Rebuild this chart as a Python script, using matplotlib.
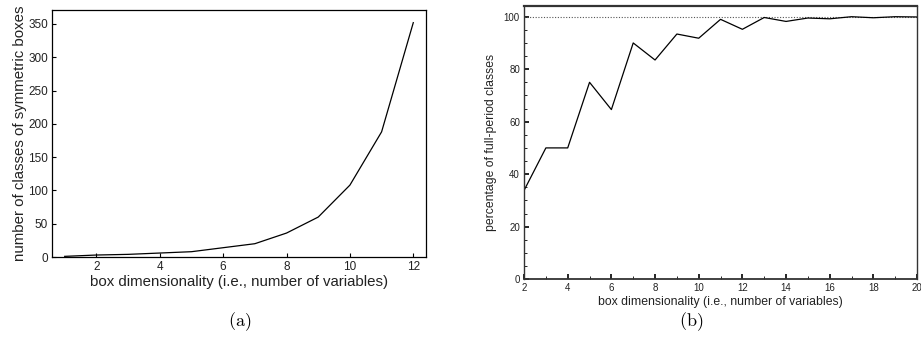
import matplotlib
matplotlib.use('Agg')
from matplotlib import pyplot as plt
from matplotlib.ticker import MultipleLocator

# (a) number of classes of symmetric boxes per dimensionality
dims_a = [1, 2, 3, 4, 5, 6, 7, 8, 9, 10, 11, 12]
classes_a = [1, 3, 4, 6, 8, 14, 20, 36, 60, 108, 188, 352]

# (b) percentage of full-period classes
dims_b = list(range(2, 21))
pct_b = [33.8, 50, 50, 75, 64.6, 90, 83.5, 93.4, 91.8, 99, 95.2, 99.7,
         98.2, 99.5, 99.2, 100, 99.6, 100, 99.9]

plt.rcParams['font.family'] = ['Liberation Sans', 'DejaVu Sans']
plt.rcParams['mathtext.fontset'] = 'cm'
narrow = ['Liberation Sans Narrow', 'Liberation Sans', 'DejaVu Sans']
txt = '#222222'

fig = plt.figure(figsize=(9.21, 3.45), dpi=100)

ax1 = fig.add_axes([0.0565, 0.255, 0.406, 0.716])
ax1.plot(dims_a, classes_a, color='black', linewidth=0.9)
ax1.set_xlim(0.6, 12.4)
ax1.set_ylim(0, 371)
ax1.set_xticks([2, 4, 6, 8, 10, 12])
ax1.set_yticks([0, 50, 100, 150, 200, 250, 300, 350])
ax1.tick_params(direction='in', length=3, labelsize=8.5, pad=3, labelcolor=txt)
ax1.set_xlabel('box dimensionality (i.e., number of variables)', fontsize=10.8,
               labelpad=1, color=txt)
ax1.set_ylabel('number of classes of symmetric boxes', fontsize=10.8,
               labelpad=1, color=txt)
for s in ax1.spines.values():
    s.set_linewidth(0.9)

ax2 = fig.add_axes([0.569, 0.191, 0.4267, 0.791])
ax2.axhline(100, color='#555555', linestyle=(0, (1, 1.5)), linewidth=0.8)
ax2.plot(dims_b, pct_b, color='black', linewidth=0.9)
ax2.set_xlim(2, 20)
ax2.set_ylim(0, 104)
ax2.xaxis.set_major_locator(MultipleLocator(2))
ax2.xaxis.set_minor_locator(MultipleLocator(1))
ax2.yaxis.set_major_locator(MultipleLocator(20))
ax2.yaxis.set_minor_locator(MultipleLocator(5))
ax2.tick_params(which='both', direction='in', labelsize=7, pad=3, labelcolor=txt)
ax2.tick_params(which='major', length=3.5, width=1.2)
ax2.tick_params(which='minor', length=2)
for lab in ax2.get_xticklabels() + ax2.get_yticklabels():
    lab.set_family(narrow)
ax2.set_xlabel('box dimensionality (i.e., number of variables)', fontsize=8.8,
               labelpad=2, family=narrow, color=txt)
ax2.set_ylabel('percentage of full-period classes', fontsize=8.8,
               labelpad=5, family=narrow, color=txt)
for s in ax2.spines.values():
    s.set_linewidth(1.0)
    s.set_color('#333333')
ax2.spines['top'].set_linewidth(1.6)
ax2.spines['bottom'].set_linewidth(1.3)

fig.text(240 / 921, 1 - 322 / 345, r'$\mathrm{(a)}$', fontsize=13, ha='center', va='center')
fig.text(691 / 921, 1 - 322 / 345, r'$\mathrm{(b)}$', fontsize=13, ha='center', va='center')

fig.savefig('out.png', dpi=100)
